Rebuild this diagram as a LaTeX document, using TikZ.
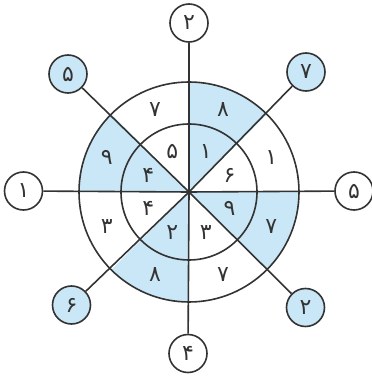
\documentclass[tikz,border=0pt]{standalone}
\usepackage{fontspec}
\usetikzlibrary{calc}
\newfontfamily\fa[Script=Arabic]{DejaVu Sans}
\definecolor{lb}{HTML}{C9E7F6}
\definecolor{ln}{HTML}{333333}
\begin{document}
\begin{tikzpicture}[x=1pt,y=1pt,line width=1.6pt,
  sm/.style={circle,draw=ln,minimum size=38pt,inner sep=0pt,font=\fa\fontsize{22}{24}\selectfont,text=ln},
  smb/.style={sm,fill=lb},
  lab/.style={font=\fa\fontsize{22}{24}\selectfont,text=ln,inner sep=0pt}]
\useasboundingbox (0,0) rectangle (372,381);
\coordinate (C) at (189,189);
% shaded sectors
\foreach \a in {45,135,225,315}
  \fill[lb] (C) -- ++(\a:110) arc (\a:\a+45:110) -- cycle;
% outer nodes
\node[sm]  (n90)  at (189,358) {۲};
\node[smb] (n45)  at (306,309) {۷};
\node[sm]  (n0)   at (354,190) {۵};
\node[smb] (n315) at (305.5,73.5) {۲};
\node[sm]  (n270) at (188,27.5) {۴};
\node[smb] (n225) at (71.5,76) {۶};
\node[sm]  (n180) at (23.5,190) {۱};
\node[smb] (n135) at (68,307) {۵};
% spokes
\foreach \n in {n90,n45,n0,n315,n270,n225,n180,n135}
  \draw[ln] (C) -- (\n);
% rings
\draw[ln] (C) circle (68);
\draw[ln] (C) circle (110);
% outer ring labels
\node[lab] (o1) at ($(C)+(112.5:89)$) {۷};
\node[lab] (o2) at ($(C)+(67.5:89)$) {۸};
\node[lab] (o3) at ($(C)+(22.5:89)$) {۱};
\node[lab] (o4) at ($(C)+(-22.5:89)$) {۷};
\node[lab] (o5) at ($(C)+(-67.5:89)$) {۷};
\node[lab] (o6) at ($(C)+(-112.5:89)$) {۸};
\node[lab] (o7) at ($(C)+(-157.5:89)$) {۳};
\node[lab] (o8) at ($(C)+(157.5:89)$) {۹};
% inner labels
\node[lab] (i1) at ($(C)+(112.5:44)$) {۵};
\node[lab] (i2) at ($(C)+(67.5:44)$) {۱};
\node[lab] (i3) at ($(C)+(22.5:44)$) {۶};
\node[lab] (i4) at ($(C)+(-22.5:44)$) {۹};
\node[lab] (i5) at ($(C)+(-67.5:44)$) {۳};
\node[lab] (i6) at ($(C)+(-112.5:44)$) {۲};
\node[lab] (i7) at ($(C)+(-157.5:44)$) {۴};
\node[lab] (i8) at ($(C)+(157.5:44)$) {۴};
\end{tikzpicture}
\end{document}
